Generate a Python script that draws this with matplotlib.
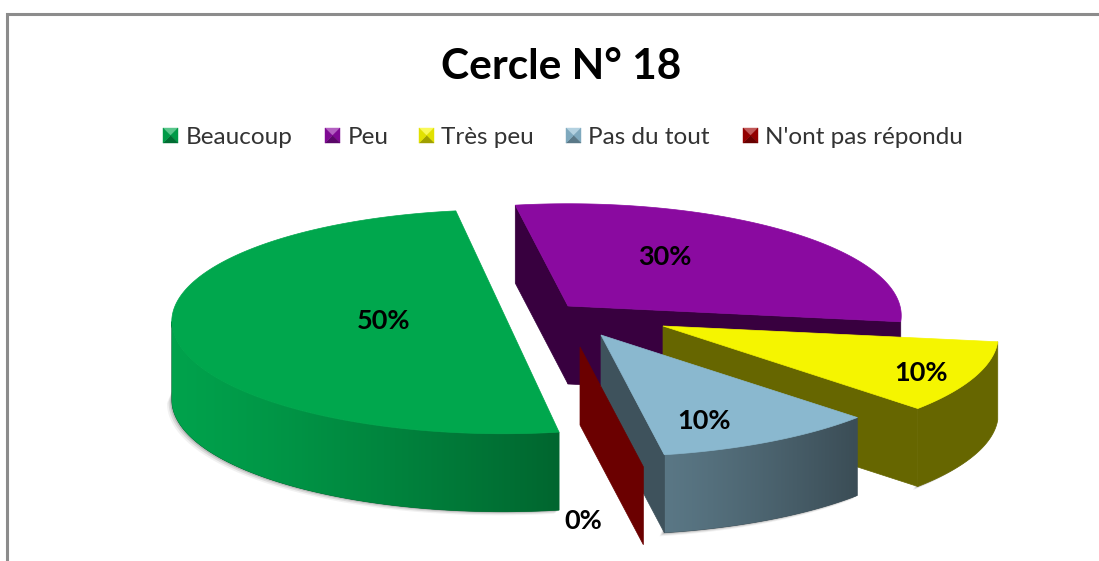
import numpy as np
import matplotlib
matplotlib.use("Agg")
import matplotlib.pyplot as plt
from matplotlib.colors import to_rgb, LinearSegmentedColormap
from matplotlib.patches import Polygon

title = "Cercle N° 18"
categories = ["Beaucoup", "Peu", "Très peu", "Pas du tout", "N'ont pas répondu"]
values = [50, 30, 10, 10, 0]
labels = ["50%", "30%", "10%", "10%", "0%"]

top_colors = ["#00a74d", "#8a0aa0", "#f5f500", "#8ab8cf", "#a00000"]
cut_colors = ["#00703a", "#38003f", "#666600", "#3e525c", "#6b0000"]
# side colour, left end and right end of the gradient
side_left = ["#00a24c", "#38003f", "#666600", "#5a7785", "#6b0000"]
side_right = ["#00662f", "#38003f", "#666600", "#3b4d56", "#6b0000"]
legend_x = [163, 325, 419, 566, 743]
legend_text_x = [186, 348, 441, 588, 765]

# pie shape, in pixels
apex = [(503, 312), (568, 306), (663, 326), (601, 335), (580, 347)]
slice_rx = [330, 332, 334, 336, 336]
label_pos = [(384, 321), (665, 257), (921, 373), (704, 421), (583, 521)]
tilt = [-1, 0, 0, 0, 0]
ry, persp, depth = 112, 0.087, 78
start_angle = 100
draw_order = [1, 2, 0, 3, 4]
# which cut faces look at the viewer: 0 first edge, 1 last edge
cuts_shown = [[], [0, 1], [1], [1], [0]]

plt.rcParams["font.family"] = ["Lato", "DejaVu Sans"]

fig = plt.figure(figsize=(10.99, 5.61), dpi=100)
ax = fig.add_axes([0, 0, 1, 1])
ax.axis("off")
z = 1


def rim(i, t):
    t = np.radians(t + tilt[i])
    f = 1 - persp * np.sin(t)
    return apex[i][0] + slice_rx[i] * np.cos(t) * f, apex[i][1] - ry * np.sin(t) * f


def arc(i, a, b, n=240):
    return np.array([rim(i, t) for t in np.linspace(a, b, n)])


def mix(c1, c2, k):
    return tuple((1 - k) * np.array(to_rgb(c1)) + k * np.array(to_rgb(c2)))


def add_poly(pts, **kw):
    global z
    z += 1
    p = Polygon(pts, zorder=z, **kw)
    ax.add_patch(p)
    return p


def side_face(i, front):
    # rim wall, with a left to right colour gradient when it has one
    global z
    pts = np.vstack([front, front[::-1] + [0, depth]])
    clip = add_poly(pts, fc=side_right[i], ec=side_right[i], lw=0.5)
    if side_left[i] == side_right[i]:
        return
    x0, x1 = front[:, 0].min(), front[:, 0].max()
    y0, y1 = pts[:, 1].min(), pts[:, 1].max()
    cmap = LinearSegmentedColormap.from_list("side", [side_left[i], side_right[i]])
    z += 1
    im = ax.imshow(np.linspace(0, 1, 256).reshape(1, -1) ** 1.2, cmap=cmap, aspect="auto",
                   extent=(x0, x1, y1, y0), zorder=z, interpolation="bilinear")
    im.set_clip_path(clip)


def draw_slice(i, a, b):
    # a is the higher angle, b the lower one
    if a > b:
        edge = arc(i, a, b)
        # the wall only shows from the front of the rim to its leftmost point
        ts = np.linspace(a, b, len(edge))
        front = edge[np.sin(np.radians(ts + tilt[i])) < 0.05]
        front = front[:np.argmin(front[:, 0]) + 1] if len(front) else front
        if len(front) > 1:
            # soft shadow below the rim
            for off, alpha in [(6, 0.08), (4, 0.14), (2, 0.22)]:
                low = front + [-off * 0.8, depth + off * 0.6]
                add_poly(np.vstack([front + [0, depth - 8], low[::-1]]), fc="#555555", ec="none", alpha=alpha)
            side_face(i, front)
    for w in cuts_shown[i]:
        t = (a, b)[w]
        x0, y0 = apex[i]
        x1, y1 = rim(i, t)
        add_poly([(x0, y0), (x1, y1), (x1, y1 + depth), (x0, y0 + depth)],
                 fc=cut_colors[i], ec=cut_colors[i], lw=0.5)
    if a > b:
        add_poly(np.vstack([[apex[i]], arc(i, a, b)]), fc=top_colors[i], ec=top_colors[i], lw=0.5)


shares = np.array(values) / sum(values) * 360
# first slice goes counter-clockwise from the start angle, others clockwise
angles = {0: (start_angle + shares[0], start_angle)}
t = start_angle
for i in range(1, len(values)):
    angles[i] = (t, t - shares[i])
    t -= shares[i]

for i in draw_order:
    draw_slice(i, angles[i][0], angles[i][1])

ax.set_xlim(0, 1099)
ax.set_ylim(561, 0)

for i, lab in enumerate(labels):
    ax.text(label_pos[i][0], label_pos[i][1], lab, fontsize=19.5, fontweight="bold",
            ha="center", va="center", color="black", zorder=100)

# title and legend
ax.text(561, 66.5, title, fontsize=30.5, fontweight="bold", ha="center", va="center", color="black", zorder=100)
for i, cat in enumerate(categories):
    x, y, s = legend_x[i], 128, 15
    c = to_rgb(top_colors[i])
    mid = (x + s / 2, y + s / 2)
    faces = [([(x, y), (x + s, y)], 0.35), ([(x + s, y), (x + s, y + s)], -0.08),
             ([(x + s, y + s), (x, y + s)], -0.35), ([(x, y + s), (x, y)], -0.08)]
    for corners, tone in faces:
        col = mix(c, "white", tone) if tone > 0 else mix(c, "black", -tone)
        add_poly(corners + [mid], fc=col, ec=col, lw=0.3)
    ax.text(legend_text_x[i], 137, cat, fontsize=17.5, ha="left", va="center", color="#333333", zorder=100)

# chart frame, only top and left are in the picture
ax.plot([7, 7, 1099], [561, 14, 14], color="#8c8c8c", lw=2.2, solid_joinstyle="miter", zorder=100)

fig.savefig("out.png", dpi=100, facecolor="white")
